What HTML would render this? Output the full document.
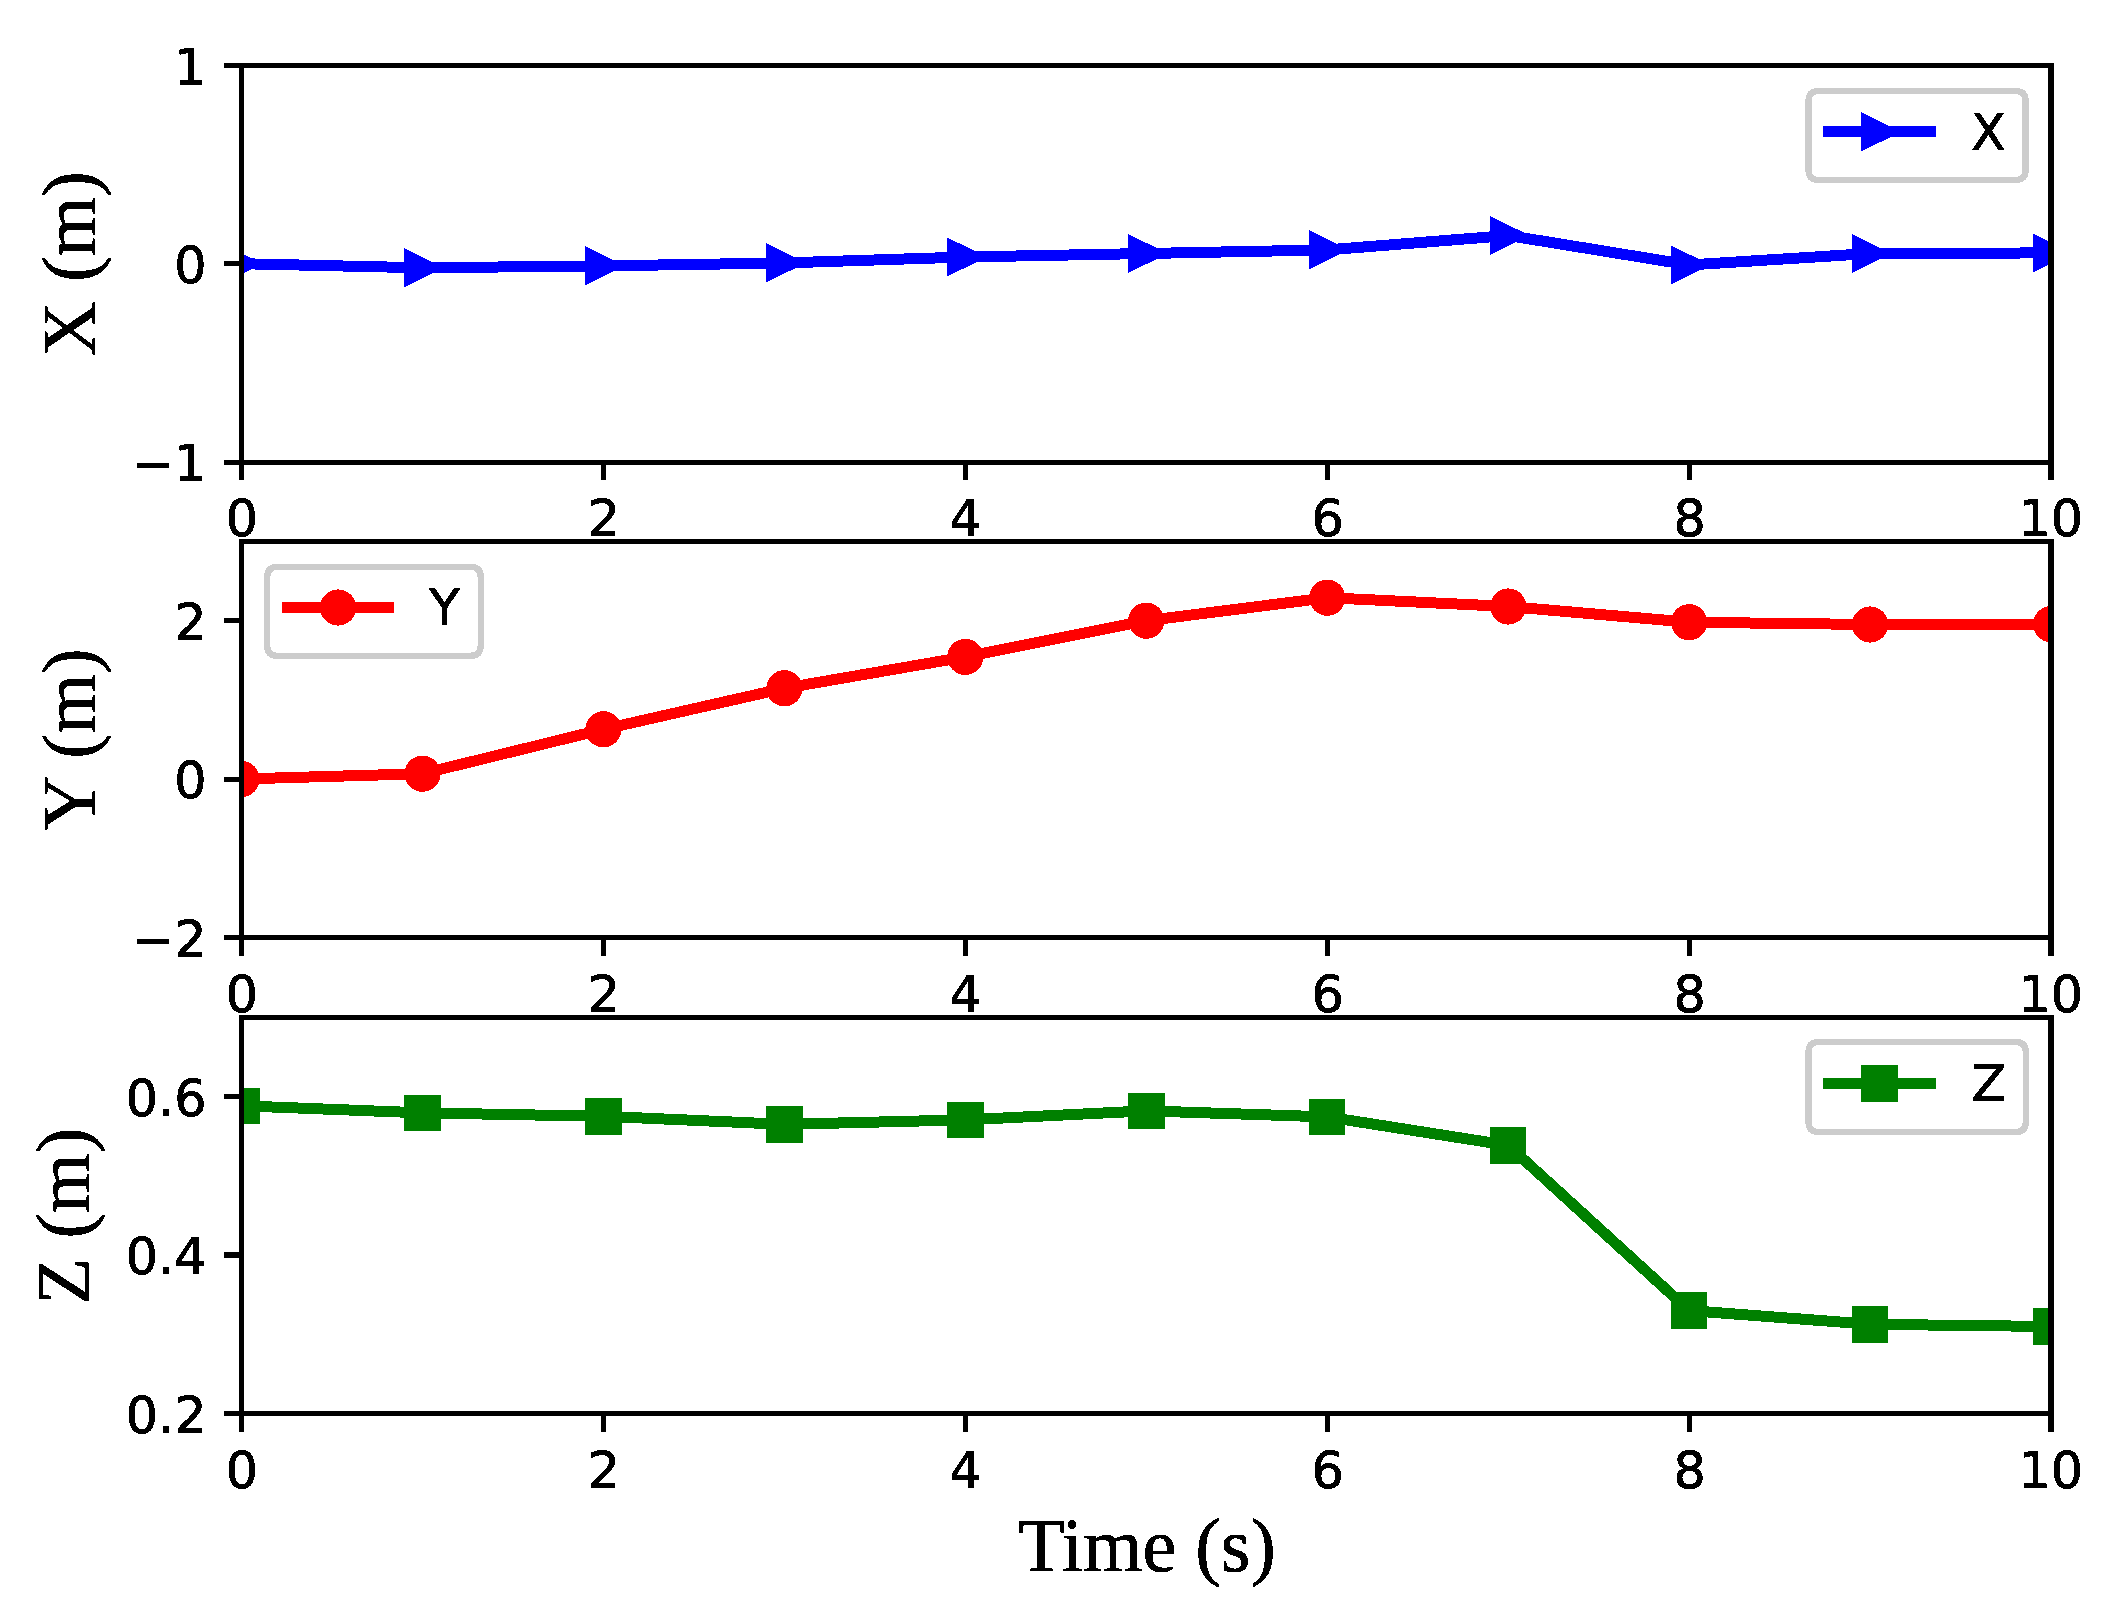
<!DOCTYPE html>
<html lang="en"><head><meta charset="utf-8"><title>Position vs time</title>
<style>
html,body{margin:0;padding:0;background:#fff;}
body{width:2113px;height:1611px;overflow:hidden;}
svg{display:block;}
.tk{font-family:"DejaVu Sans","Liberation Sans",sans-serif;font-size:50.8px;fill:#000;stroke:#000;stroke-width:0.9px;text-rendering:geometricPrecision;}
.lb{font-family:"Liberation Serif","Times New Roman",serif;font-size:76.2px;fill:#000;stroke:#000;stroke-width:0.7px;}
</style></head><body>
<svg width="2113" height="1611" viewBox="0 0 2113 1611">
<defs>
<filter id="hard" x="-5%" y="-5%" width="110%" height="110%" color-interpolation-filters="sRGB"><feComponentTransfer><feFuncA type="discrete" tableValues="0 1"/></feComponentTransfer></filter>
<clipPath id="c0"><rect x="241.5" y="65.4" width="1809.6" height="397.1"/></clipPath>
<clipPath id="c1"><rect x="241.5" y="541.6" width="1809.6" height="395.9"/></clipPath>
<clipPath id="c2"><rect x="241.5" y="1017.6" width="1809.6" height="395.9"/></clipPath>
</defs>
<rect x="0" y="0" width="2113" height="1611" fill="#ffffff"/>
<g id="axes1">
<g clip-path="url(#c0)" shape-rendering="crispEdges">
<polyline points="241.50,263.70 422.46,267.80 603.42,265.90 784.38,262.95 965.34,257.00 1146.30,253.50 1327.26,249.90 1508.22,235.50 1689.18,264.95 1870.14,253.50 2051.10,252.90" fill="none" stroke="#0000ff" stroke-width="11.0" stroke-linejoin="round" stroke-linecap="square"/>
<polygon points="223.35,244.10 223.35,283.30 262.90,263.70" fill="#0000ff"/>
<polygon points="404.31,248.20 404.31,287.40 443.86,267.80" fill="#0000ff"/>
<polygon points="585.27,246.30 585.27,285.50 624.82,265.90" fill="#0000ff"/>
<polygon points="766.23,243.35 766.23,282.55 805.78,262.95" fill="#0000ff"/>
<polygon points="947.19,237.40 947.19,276.60 986.74,257.00" fill="#0000ff"/>
<polygon points="1128.15,233.90 1128.15,273.10 1167.70,253.50" fill="#0000ff"/>
<polygon points="1309.11,230.30 1309.11,269.50 1348.66,249.90" fill="#0000ff"/>
<polygon points="1490.07,215.90 1490.07,255.10 1529.62,235.50" fill="#0000ff"/>
<polygon points="1671.03,245.35 1671.03,284.55 1710.58,264.95" fill="#0000ff"/>
<polygon points="1851.99,233.90 1851.99,273.10 1891.54,253.50" fill="#0000ff"/>
<polygon points="2032.95,233.30 2032.95,272.50 2072.50,252.90" fill="#0000ff"/>
</g>
<g fill="#000" shape-rendering="crispEdges">
<rect x="239" y="462.5" width="5" height="17.5"/>
<rect x="601" y="462.5" width="5" height="17.5"/>
<rect x="963" y="462.5" width="5" height="17.5"/>
<rect x="1325" y="462.5" width="5" height="17.5"/>
<rect x="1687" y="462.5" width="5" height="17.5"/>
<rect x="2048" y="462.5" width="6" height="17.5"/>
<rect x="224" y="63" width="17.5" height="5"/>
<rect x="224" y="261" width="17.5" height="5"/>
<rect x="224" y="460" width="17.5" height="5"/>
<rect x="239" y="63" width="1815" height="5"/>
<rect x="239" y="460" width="1815" height="5"/>
<rect x="239" y="63" width="5" height="402"/>
<rect x="2048" y="63" width="6" height="402"/>
</g>
<g class="tk" filter="url(#hard)">
<text x="241.9" y="536.2" text-anchor="middle">0</text>
<text x="603.8" y="536.2" text-anchor="middle">2</text>
<text x="965.7" y="536.2" text-anchor="middle">4</text>
<text x="1327.7" y="536.2" text-anchor="middle">6</text>
<text x="1689.6" y="536.2" text-anchor="middle">8</text>
<text x="2050.8" y="536.2" text-anchor="middle">10</text>
<text x="206.6" y="85.0" text-anchor="end">1</text>
<text x="206.6" y="283.0" text-anchor="end">0</text>
<text x="206.6" y="481.0" text-anchor="end">−1</text>
</g>
<text class="lb" style="font-size:76.8px" filter="url(#hard)" transform="translate(94.9,263.9) rotate(-90)" text-anchor="middle">X (m)</text>
<g id="legend1">
<path d="M1818.70,91.00 L2015.40,91.00 Q2025.60,91.00 2025.60,101.20 L2025.60,169.80 Q2025.60,180.00 2015.40,180.00 L1818.70,180.00 Q1808.50,180.00 1808.50,169.80 L1808.50,101.20 Q1808.50,91.00 1818.70,91.00 Z" fill="#ffffff" fill-opacity="0.8" stroke="#cccccc" stroke-width="6.3" shape-rendering="crispEdges"/>
<g shape-rendering="crispEdges">
<line x1="1828.50" y1="131.50" x2="1930.50" y2="131.50" stroke="#0000ff" stroke-width="11.0" stroke-linecap="square"/>
<polygon points="1861.35,112.30 1861.35,151.50 1900.90,131.90" fill="#0000ff"/>
</g>
<text class="tk" filter="url(#hard)" x="1970.90" y="150.00">X</text>
</g>
</g>
<g id="axes2">
<g clip-path="url(#c1)" shape-rendering="crispEdges">
<polyline points="241.50,779.00 422.46,773.70 603.42,729.30 784.38,688.25 965.34,656.90 1146.30,620.70 1327.26,597.70 1508.22,606.50 1689.18,622.25 1870.14,624.50 2051.10,624.20" fill="none" stroke="#ff0000" stroke-width="11.0" stroke-linejoin="round" stroke-linecap="square"/>
<circle cx="241.50" cy="779.00" r="18.1" fill="#ff0000"/>
<circle cx="422.46" cy="773.70" r="18.1" fill="#ff0000"/>
<circle cx="603.42" cy="729.30" r="18.1" fill="#ff0000"/>
<circle cx="784.38" cy="688.25" r="18.1" fill="#ff0000"/>
<circle cx="965.34" cy="656.90" r="18.1" fill="#ff0000"/>
<circle cx="1146.30" cy="620.70" r="18.1" fill="#ff0000"/>
<circle cx="1327.26" cy="597.70" r="18.1" fill="#ff0000"/>
<circle cx="1508.22" cy="606.50" r="18.1" fill="#ff0000"/>
<circle cx="1689.18" cy="622.25" r="18.1" fill="#ff0000"/>
<circle cx="1870.14" cy="624.50" r="18.1" fill="#ff0000"/>
<circle cx="2051.10" cy="624.20" r="18.1" fill="#ff0000"/>
</g>
<g fill="#000" shape-rendering="crispEdges">
<rect x="239" y="937.5" width="5" height="18.4"/>
<rect x="601" y="937.5" width="5" height="18.4"/>
<rect x="963" y="937.5" width="5" height="18.4"/>
<rect x="1325" y="937.5" width="5" height="18.4"/>
<rect x="1687" y="937.5" width="5" height="18.4"/>
<rect x="2048" y="937.5" width="6" height="18.4"/>
<rect x="224" y="618" width="17.5" height="5"/>
<rect x="224" y="777" width="17.5" height="5"/>
<rect x="224" y="935" width="17.5" height="5"/>
<rect x="239" y="539" width="1815" height="5"/>
<rect x="239" y="935" width="1815" height="5"/>
<rect x="239" y="539" width="5" height="401"/>
<rect x="2048" y="539" width="6" height="401"/>
</g>
<g class="tk" filter="url(#hard)">
<text x="241.9" y="1012.4" text-anchor="middle">0</text>
<text x="603.8" y="1012.4" text-anchor="middle">2</text>
<text x="965.7" y="1012.4" text-anchor="middle">4</text>
<text x="1327.7" y="1012.4" text-anchor="middle">6</text>
<text x="1689.6" y="1012.4" text-anchor="middle">8</text>
<text x="2050.8" y="1012.4" text-anchor="middle">10</text>
<text x="206.6" y="639.9" text-anchor="end">2</text>
<text x="206.6" y="798.0" text-anchor="end">0</text>
<text x="206.6" y="956.9" text-anchor="end">−2</text>
</g>
<text class="lb" style="font-size:76.8px" filter="url(#hard)" transform="translate(94.9,739.5) rotate(-90)" text-anchor="middle">Y (m)</text>
<g id="legend2">
<path d="M277.40,566.90 L470.50,566.90 Q480.70,566.90 480.70,577.10 L480.70,645.60 Q480.70,655.80 470.50,655.80 L277.40,655.80 Q267.20,655.80 267.20,645.60 L267.20,577.10 Q267.20,566.90 277.40,566.90 Z" fill="#ffffff" fill-opacity="0.8" stroke="#cccccc" stroke-width="6.3" shape-rendering="crispEdges"/>
<g shape-rendering="crispEdges">
<line x1="287.40" y1="607.50" x2="388.50" y2="607.50" stroke="#ff0000" stroke-width="11.0" stroke-linecap="square"/>
<circle cx="338.10" cy="607.50" r="18.1" fill="#ff0000"/>
</g>
<text class="tk" filter="url(#hard)" x="429.00" y="624.90">Y</text>
</g>
</g>
<g id="axes3">
<g clip-path="url(#c2)" shape-rendering="crispEdges">
<polyline points="241.50,1105.80 422.46,1112.90 603.42,1116.30 784.38,1124.35 965.34,1119.86 1146.30,1110.87 1327.26,1116.90 1508.22,1145.40 1689.18,1310.55 1870.14,1324.30 2051.10,1326.50" fill="none" stroke="#008000" stroke-width="11.0" stroke-linejoin="round" stroke-linecap="square"/>
<rect x="223.30" y="1087.60" width="36.4" height="36.4" fill="#008000"/>
<rect x="404.26" y="1094.70" width="36.4" height="36.4" fill="#008000"/>
<rect x="585.22" y="1098.10" width="36.4" height="36.4" fill="#008000"/>
<rect x="766.18" y="1106.15" width="36.4" height="36.4" fill="#008000"/>
<rect x="947.14" y="1101.66" width="36.4" height="36.4" fill="#008000"/>
<rect x="1128.10" y="1092.67" width="36.4" height="36.4" fill="#008000"/>
<rect x="1309.06" y="1098.70" width="36.4" height="36.4" fill="#008000"/>
<rect x="1490.02" y="1127.20" width="36.4" height="36.4" fill="#008000"/>
<rect x="1670.98" y="1292.35" width="36.4" height="36.4" fill="#008000"/>
<rect x="1851.94" y="1306.10" width="36.4" height="36.4" fill="#008000"/>
<rect x="2032.90" y="1308.30" width="36.4" height="36.4" fill="#008000"/>
</g>
<g fill="#000" shape-rendering="crispEdges">
<rect x="239" y="1413.5" width="5" height="18.4"/>
<rect x="601" y="1413.5" width="5" height="18.4"/>
<rect x="963" y="1413.5" width="5" height="18.4"/>
<rect x="1325" y="1413.5" width="5" height="18.4"/>
<rect x="1687" y="1413.5" width="5" height="18.4"/>
<rect x="2048" y="1413.5" width="6" height="18.4"/>
<rect x="224" y="1094" width="17.5" height="5"/>
<rect x="224" y="1252" width="17.5" height="6"/>
<rect x="224" y="1411" width="17.5" height="5"/>
<rect x="239" y="1015" width="1815" height="5"/>
<rect x="239" y="1411" width="1815" height="5"/>
<rect x="239" y="1015" width="5" height="401"/>
<rect x="2048" y="1015" width="6" height="401"/>
</g>
<g class="tk" filter="url(#hard)">
<text x="241.9" y="1488.1" text-anchor="middle">0</text>
<text x="603.8" y="1488.1" text-anchor="middle">2</text>
<text x="965.7" y="1488.1" text-anchor="middle">4</text>
<text x="1327.7" y="1488.1" text-anchor="middle">6</text>
<text x="1689.6" y="1488.1" text-anchor="middle">8</text>
<text x="2050.8" y="1488.1" text-anchor="middle">10</text>
<text x="206.6" y="1116.0" text-anchor="end">0.6</text>
<text x="206.6" y="1274.0" text-anchor="end">0.4</text>
<text x="206.6" y="1433.0" text-anchor="end">0.2</text>
</g>
<text class="lb" style="font-size:76.8px" filter="url(#hard)" transform="translate(88.9,1216.3) rotate(-90)" text-anchor="middle">Z (m)</text>
<g id="legend3">
<path d="M1818.70,1042.00 L2015.70,1042.00 Q2025.90,1042.00 2025.90,1052.20 L2025.90,1121.80 Q2025.90,1132.00 2015.70,1132.00 L1818.70,1132.00 Q1808.50,1132.00 1808.50,1121.80 L1808.50,1052.20 Q1808.50,1042.00 1818.70,1042.00 Z" fill="#ffffff" fill-opacity="0.8" stroke="#cccccc" stroke-width="6.3" shape-rendering="crispEdges"/>
<g shape-rendering="crispEdges">
<line x1="1828.50" y1="1083.50" x2="1930.60" y2="1083.50" stroke="#008000" stroke-width="11.0" stroke-linecap="square"/>
<rect x="1861.00" y="1065.00" width="37.0" height="37.0" fill="#008000"/>
</g>
<text class="tk" filter="url(#hard)" x="1971.50" y="1101.00">Z</text>
</g>
</g>
<text class="lb" filter="url(#hard)" x="1147.0" y="1570.9" text-anchor="middle">Time (s)</text>
</svg>
</body></html>
